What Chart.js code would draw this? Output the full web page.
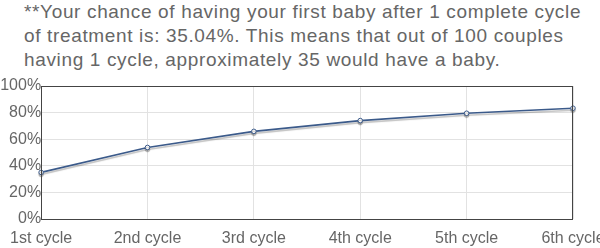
<!DOCTYPE html>
<html>
<head>
<meta charset="utf-8">
<script src="https://cdn.jsdelivr.net/npm/chart.js@4/dist/chart.umd.min.js"></script>
<style>
  html, body { margin: 0; padding: 0; background: #fff; }
  #wrap { position: relative; width: 600px; height: 248px; overflow: hidden; }
  #title { position: absolute; left: 24px; top: 0px; width: 576px; font-family: "Liberation Sans", Arial, sans-serif; font-size: 19px; letter-spacing: 0.65px; line-height: 24px; color: #666; white-space: nowrap; }
  canvas { position: absolute; left: 0; top: 0; }
</style>
</head>
<body>
<div id="wrap">
  <div id="title">**Your chance of having your first baby after 1 complete cycle<br>of treatment is: 35.04%. This means that out of 100 couples<br>having 1 cycle, approximately 35 would have a baby.</div>
  <canvas id="c" width="600" height="248"></canvas>
</div>
<script>
const categories = ["1st cycle", "2nd cycle", "3rd cycle", "4th cycle", "5th cycle", "6th cycle"];
const chanceValues = [35.04, 53.8, 65.9, 74.0, 79.5, 83.3];
const yTicks = [0, 20, 40, 60, 80, 100];

const shadowPlugin = {
  id: 'lineShadow',
  beforeDatasetDraw(chart) {
    const ctx = chart.ctx;
    ctx.save();
    ctx.shadowColor = 'rgba(0,0,0,0.25)';
    ctx.shadowOffsetX = 0;
    ctx.shadowOffsetY = 2;
    ctx.shadowBlur = 1;
  },
  afterDatasetDraw(chart) {
    chart.ctx.restore();
  }
};

const framePlugin = {
  id: 'frame',
  afterDraw(chart) {
    const a = chart.chartArea;
    const ctx = chart.ctx;
    ctx.save();
    ctx.strokeStyle = '#444';
    ctx.lineWidth = 1;
    ctx.strokeRect(Math.round(a.left) + 0.5, Math.round(a.top) + 0.5, Math.round(a.right - a.left) - 1, Math.round(a.bottom - a.top));
    ctx.restore();
  }
};

new Chart(document.getElementById('c'), {
  type: 'line',
  data: {
    labels: categories,
    datasets: [{
      data: chanceValues,
      borderColor: '#3b5a8a',
      borderWidth: 1.6,
      pointRadius: 2.3,
      pointBackgroundColor: '#fff',
      pointBorderColor: '#3b5a8a',
      pointBorderWidth: 1,
      tension: 0,
      fill: false,
      clip: false
    }]
  },
  options: {
    responsive: false,
    animation: false,
    events: [],
    layout: { padding: { top: 86, left: 0, right: 0, bottom: 0 } },
    plugins: { legend: { display: false }, tooltip: { enabled: false }, title: { display: false } },
    scales: {
      x: {
        grid: { color: '#e2e2e2', drawTicks: false },
        border: { display: false },
        ticks: { color: '#666', padding: 10, maxRotation: 0, autoSkip: false, font: { family: 'Liberation Sans', size: 16 } },
        afterFit(scale) { scale.paddingRight = 27; scale.height = 29; }
      },
      y: {
        min: 0, max: 100,
        afterBuildTicks(scale) { scale.ticks = yTicks.map(v => ({ value: v })); },
        grid: { color: '#e2e2e2', drawTicks: false },
        border: { display: false },
        ticks: { color: '#666', padding: 0, font: { family: 'Liberation Sans', size: 16 }, callback: v => v + '%' },
        afterFit(scale) { scale.paddingTop = 0; scale.paddingBottom = 0; }
      }
    }
  },
  plugins: [shadowPlugin, framePlugin]
});
</script>
</body>
</html>
